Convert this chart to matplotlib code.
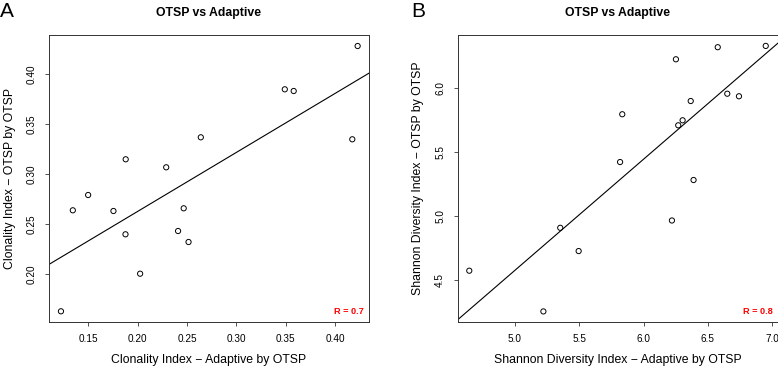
import numpy as np
import matplotlib.pyplot as plt

plt.rcParams['font.family'] = ['Liberation Sans', 'DejaVu Sans']

# panel A: clonality index
clon_adaptive = [0.4227, 0.349, 0.358, 0.4173, 0.264, 0.188, 0.229, 0.150,
                 0.1345, 0.1756, 0.2467, 0.1878, 0.241, 0.2516, 0.2026, 0.1225]
clon_otsp = [0.4283, 0.385, 0.3833, 0.335, 0.337, 0.315, 0.307, 0.2793,
             0.264, 0.2633, 0.266, 0.240, 0.2433, 0.2323, 0.2006, 0.163]

# panel B: shannon diversity
shan_adaptive = [6.949, 6.576, 6.251, 6.650, 6.741, 6.366, 5.834, 6.269,
                 6.303, 5.817, 6.388, 6.220, 5.352, 5.495, 4.645, 5.221]
shan_otsp = [6.325, 6.315, 6.221, 5.953, 5.933, 5.896, 5.793, 5.707,
             5.746, 5.421, 5.281, 4.966, 4.909, 4.728, 4.575, 4.258]

panels = [
   dict(x=clon_adaptive, y=clon_otsp, letter='A', r='R = 0.7',
        xlabel='Clonality Index \u2212 Adaptive by OTSP',
        ylabel='Clonality Index \u2212 OTSP by OTSP',
        xlim=(0.1104, 0.4342), ylim=(0.1526, 0.4393),
        xticks=[0.15, 0.20, 0.25, 0.30, 0.35, 0.40], yticks=[0.20, 0.25, 0.30, 0.35, 0.40],
        fmt='{:.2f}', left=49),
   dict(x=shan_adaptive, y=shan_otsp, letter='B', r='R = 0.8',
        xlabel='Shannon Diversity Index \u2212 Adaptive by OTSP',
        ylabel='Shannon Diversity Index \u2212 OTSP by OTSP',
        xlim=(4.555, 7.042), ylim=(4.178, 6.41),
        xticks=[5.0, 5.5, 6.0, 6.5, 7.0], yticks=[4.5, 5.0, 5.5, 6.0],
        fmt='{:.1f}', left=457.7),
]

W, H = 778, 367
fig = plt.figure(figsize=(W / 100, H / 100), dpi=100)

for p in panels:
   ax = fig.add_axes([p['left'] / W, (H - 321.7) / H, 320 / W, (321.7 - 35) / H])
   x = np.array(p['x'])
   y = np.array(p['y'])
   ax.scatter(x, y, s=14, facecolors='none', edgecolors='black', linewidths=0.7, zorder=3)

   # regression line across the whole panel, like abline
   slope, icpt = np.polyfit(x, y, 1)
   xs = np.array(p['xlim'])
   ax.plot(xs, icpt + slope * xs, color='black', lw=0.8)

   ax.set_xlim(p['xlim'])
   ax.set_ylim(p['ylim'])
   ax.set_xticks(p['xticks'])
   ax.set_xticklabels([p['fmt'].format(v) for v in p['xticks']])
   ax.set_yticks(p['yticks'])
   ax.set_yticklabels([p['fmt'].format(v) for v in p['yticks']], rotation=90, va='center')
   ax.tick_params(direction='out', length=3, width=0.6, labelsize=7.2, pad=6, color='#333333')
   for s in ax.spines.values():
      s.set_linewidth(0.7)
      s.set_color('#333333')

   ax.set_xlabel(p['xlabel'], fontsize=8.8, va='center')
   ax.xaxis.set_label_coords(0.5, -0.1336)
   ax.set_ylabel(p['ylabel'], fontsize=8.8, va='center')
   ax.yaxis.set_label_coords(-0.123, 0.5)

   ax.text(0.985, 0.035, p['r'], transform=ax.transAxes, ha='right', va='center',
           color='red', fontweight='bold', fontsize=6.6)

   cx = (p['left'] + 160) / W
   fig.text(cx, 1 - 13.3 / H, 'OTSP vs Adaptive', ha='center', va='center',
            fontweight='bold', fontsize=8.8)
   lx = 0 if p['letter'] == 'A' else 411 / W
   fig.text(lx, 1 - 11.5 / H, p['letter'], ha='left', va='center', fontsize=15)

fig.savefig('out.png', dpi=100)
